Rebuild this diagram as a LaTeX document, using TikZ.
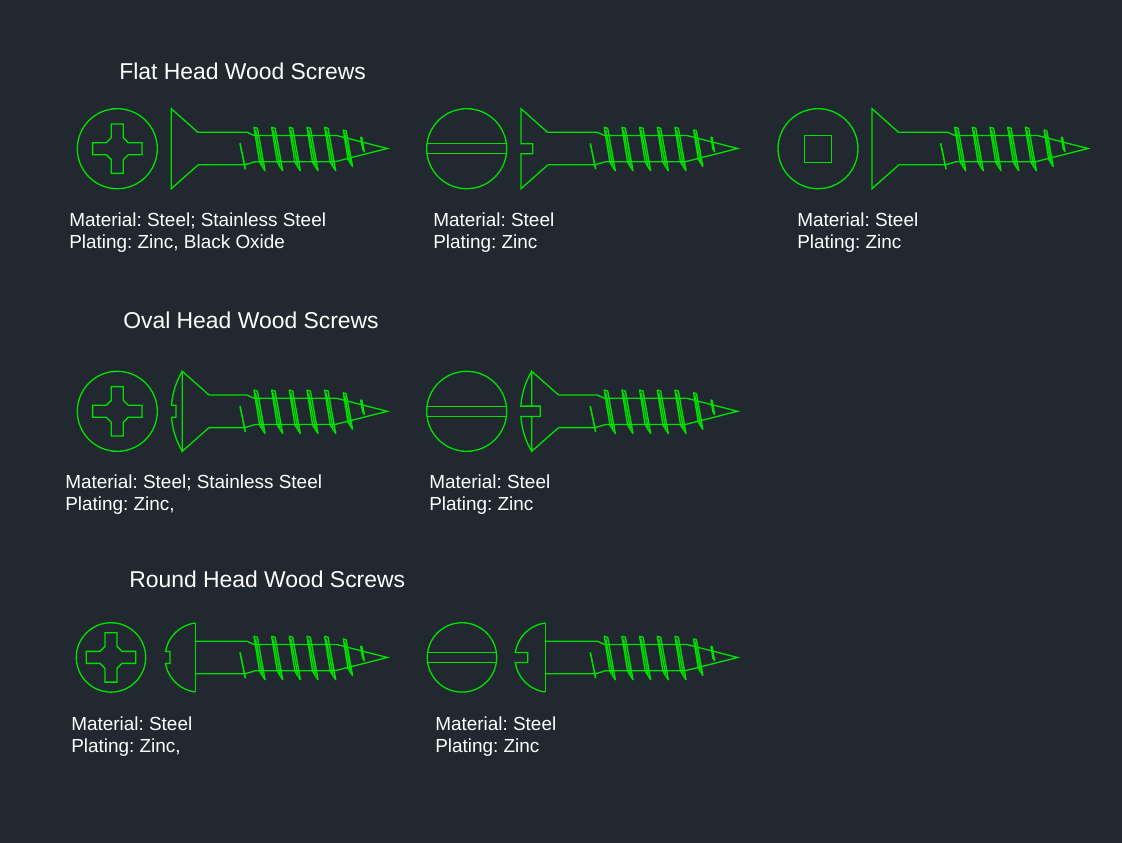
\documentclass[tikz,border=0pt]{standalone}
\usepackage{fontspec}
\setmainfont{Liberation Sans}
\frenchspacing
\definecolor{scrbg}{HTML}{212830}
\definecolor{scrgreen}{HTML}{00E000}
\tikzset{
  scr/.style={draw=scrgreen,line width=1pt,line join=miter},
  scrfin/.style={draw=scrgreen,line width=1.05pt,line join=round},
  scrtitle/.style={text=white,anchor=base west,inner sep=0pt,font=\fontsize{17.18}{20}\selectfont},
  scrtext/.style={text=white,anchor=base west,inner sep=0pt,font=\fontsize{14.2}{17}\selectfont},
  pics/phillipsface/.style={code={
    \draw[scr] (0,0) circle[radius=#1];
    \draw[scr] (6,-24.7)--(6,-11)--(11,-6)--(24.7,-6)--(24.7,6)--(11,6)--(6,11)--(6,24.7)--(-6,24.7)--(-6,11)--(-11,6)--(-24.7,6)--(-24.7,-6)--(-11,-6)--(-6,-11)--(-6,-24.7)--cycle;
  }},
  pics/slotface/.style={code={
    \draw[scr] (0,0) circle[radius=#1];
    \draw[scr] ({-sqrt(#1*#1-25)},-5)--({sqrt(#1*#1-25)},-5);
    \draw[scr] ({-sqrt(#1*#1-25)},5)--({sqrt(#1*#1-25)},5);
  }},
  pics/squareface/.style={code={
    \draw[scr] (0,0) circle[radius=#1];
    \draw[scr] (-13.5,-13.5) rectangle (13.5,13.5);
  }},
  pics/flatplain/.style={code={
    \draw[scr] (26.7,-16.3)--(0,-40)--(0,40)--(26.7,16.3);
  }},
  pics/flatslot/.style={code={
    \draw[scr] (26.7,-16.3)--(0,-40)--(0,-5)--(11.7,-5)--(11.7,5)--(0,5)--(0,40)--(26.7,16.3);
  }},
  pics/ovalphil/.style={code={
    \draw[scr] (26.7,-16.3)--(0,-40)--(0,40)--(26.7,16.3);
    \draw[scr] plot[domain=-30.8:-4.4,samples=16] ({67.2-78.2*cos(\x)},{78.2*sin(\x)})--(-6.3,-6)--(-6.3,6)--(-10.8,6)
      -- plot[domain=4.4:30.8,samples=16] ({67.2-78.2*cos(\x)},{78.2*sin(\x)});
  }},
  pics/ovalslot/.style={code={
    \draw[scr] (26.9,-16.3)--(0,-40)--(0,-5.2)--(8.6,-5.2)--(8.6,5.2)--(0,5.2)--(0,40)--(26.9,16.3);
    \draw[scr] plot[domain=-30.8:-3.8,samples=16] ({67.2-78.2*cos(\x)},{78.2*sin(\x)})--(0,-5.2);
    \draw[scr] (0,5.2)--plot[domain=3.8:30.8,samples=16] ({67.2-78.2*cos(\x)},{78.2*sin(\x)});
  }},
  pics/roundphil/.style={code={
    \draw[scr] (0,-34.5)--(0,34.5);
    \draw[scr] plot[domain=-82.4:-9.9,samples=24] ({4.5-34.8*cos(\x)},{34.8*sin(\x)})--(-25.3,-6)--(-25.3,6)
      --plot[domain=9.9:82.4,samples=24] ({4.5-34.8*cos(\x)},{34.8*sin(\x)});
  }},
  pics/roundslot/.style={code={
    \draw[scr] (0,-34.5)--(0,34.5);
    \draw[scr] plot[domain=-82.4:-8.3,samples=24] ({4.5-34.8*cos(\x)},{34.8*sin(\x)})--(-17.6,-5)--(-17.6,5)
      --plot[domain=8.3:82.4,samples=24] ({4.5-34.8*cos(\x)},{34.8*sin(\x)});
  }},
  pics/fin/.style={code={
    \draw[scrfin] (0,0)--(5.6,35)--(11,43.4)--(3.4,1)--cycle;
    \draw[scrfin] (1.5,3)--(8.4,38);
  }},
  pics/threaded/.style={code={
    \draw[scr] (-#1,-16.3)--(-140.3,-16.3)--(-133.3,-13)--(-50.6,-13)--(0,0)--(-52.3,13.2)--(-132,13.2)--(-142.3,16.3)--(-#1,16.3);
    \draw[scr,line width=1.2pt] (-147.3,-5.2)--(-142.6,17.5)--(-142,20.8);
    \foreach \n in {0,1,2,3,4}
      \pic[shift={({-133.3+17.67*\n},-21.2)}] {fin};
    \pic[shift={(-44,-18.5)},scale=0.84] {fin};
    \pic[shift={(-26.6,-11.2)},scale=0.33] {fin};
  }}
}
\begin{document}
\begin{tikzpicture}[x=0.75pt,y=-0.75pt]
\useasboundingbox (0,0) rectangle (1122,843);
\fill[scrbg] (0,0) rectangle (1122,843);

% Titles
\node[scrtitle] (t1) at (119,79) {Flat Head Wood Screws};
\node[scrtitle] (t2) at (123,328) {Oval Head Wood Screws};
\node[scrtitle] (t3) at (129,587) {Round Head Wood Screws};

% Row 1
\pic (f1) at (117.3,148.7) {phillipsface=40};
\pic (h1) at (171.3,148.7) {flatplain};
\pic (s1) at (387.3,148.5) {threaded=189.3};
\pic (f2) at (466.7,148.7) {slotface=40};
\pic (h2) at (521,148.7) {flatslot};
\pic (s2) at (737.6,148.5) {threaded=189.9};
\pic (f3) at (818,148.7) {squareface=40};
\pic (h3) at (872,148.7) {flatplain};
\pic (s3) at (1088,148.5) {threaded=189.3};

% Row 2
\pic (f4) at (117.3,411.3) {phillipsface=40};
\pic (h4) at (182.3,411.3) {ovalphil};
\pic (s4) at (387.3,411.3) {threaded=178.3};
\pic (f5) at (466.7,411.3) {slotface=40};
\pic (h5) at (531.7,411.3) {ovalslot};
\pic (s5) at (737.6,411.3) {threaded=179};

% Row 3
\pic (f6) at (111,657.4) {phillipsface=34.7};
\pic (h6) at (195.3,657.5) {roundphil};
\pic (s6) at (387.3,657.5) {threaded=192};
\pic (f7) at (462,657.4) {slotface=34.7};
\pic (h7) at (545.3,657.5) {roundslot};
\pic (s7) at (737.6,657.5) {threaded=192.3};

% Labels
\node[scrtext] (a1) at (69,226) {Material: Steel; Stainless Steel};
\node[scrtext] (b1) at (69,248) {Plating: Zinc, Black Oxide};
\node[scrtext] (a2) at (433,226) {Material: Steel};
\node[scrtext] (b2) at (433,248) {Plating: Zinc};
\node[scrtext] (a3) at (797,226) {Material: Steel};
\node[scrtext] (b3) at (797,248) {Plating: Zinc};
\node[scrtext] (a4) at (65,488) {Material: Steel; Stainless Steel};
\node[scrtext] (b4) at (65,510) {Plating: Zinc,};
\node[scrtext] (a5) at (429,488) {Material: Steel};
\node[scrtext] (b5) at (429,510) {Plating: Zinc};
\node[scrtext] (a6) at (71,730) {Material: Steel};
\node[scrtext] (b6) at (71,752) {Plating: Zinc,};
\node[scrtext] (a7) at (435,730) {Material: Steel};
\node[scrtext] (b7) at (435,752) {Plating: Zinc};
\end{tikzpicture}
\end{document}
